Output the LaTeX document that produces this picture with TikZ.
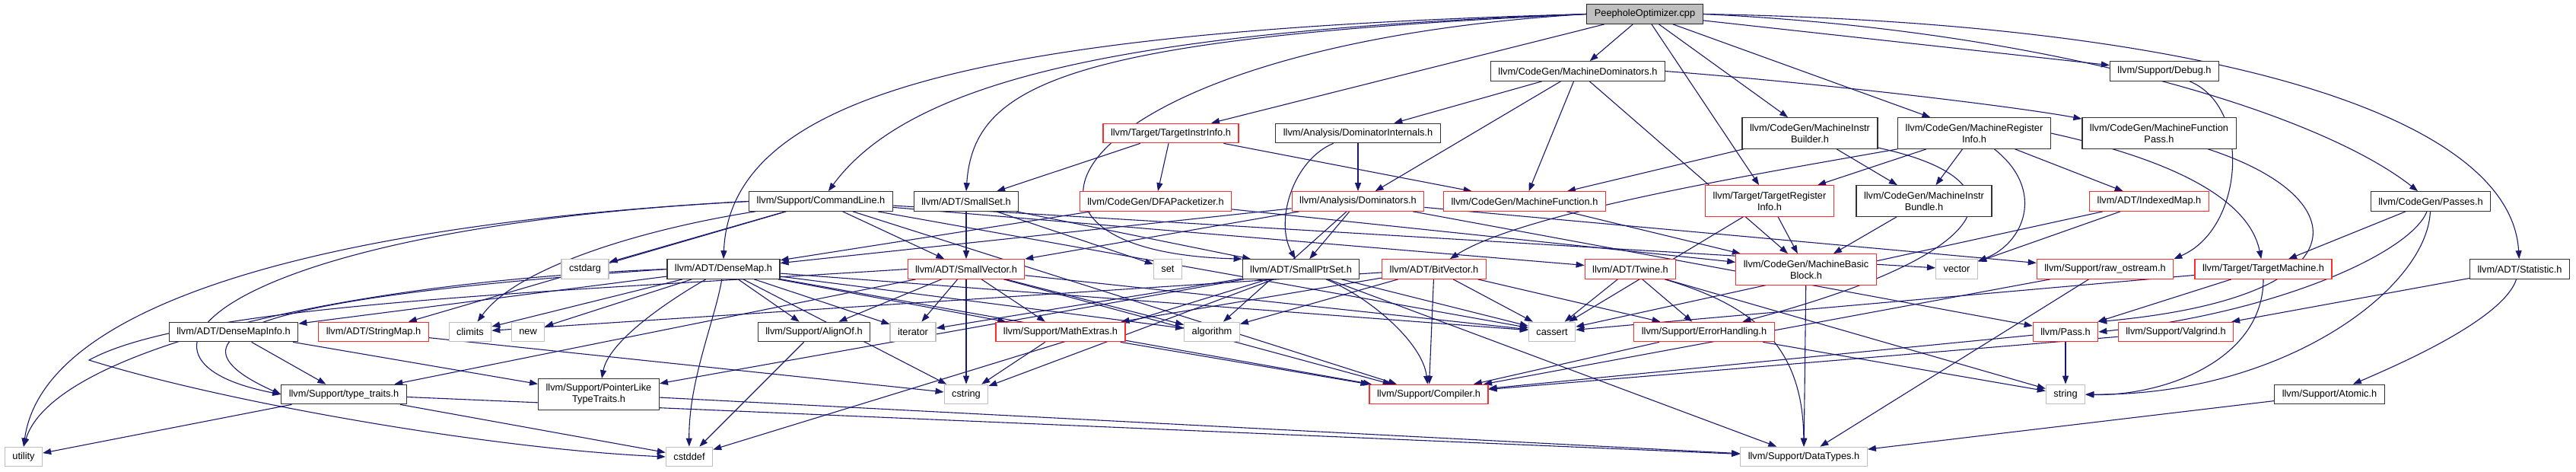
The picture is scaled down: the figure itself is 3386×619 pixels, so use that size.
\documentclass[tikz,border=0pt]{standalone}
\usepackage{fontspec}
\setmainfont{Liberation Sans}
\usetikzlibrary{arrows.meta}
\definecolor{edgeblue}{HTML}{191970}
\definecolor{truncred}{HTML}{FF2A2A}
\definecolor{sysgray}{HTML}{BFBFBF}
\pgfdeclarelayer{bg}
\pgfsetlayers{bg,main}

\begin{document}
\begin{tikzpicture}[
  x=1pt, y=-1pt,
  font=\fontsize{12.8}{15}\selectfont,
  hdr/.style={draw=black!80, fill=white, line width=1.2pt, align=center, inner xsep=10pt, inner ysep=3pt, minimum height=25.5pt},
  two/.style={minimum height=40.5pt},
  trunc/.style={hdr, draw=truncred},
  sys/.style={hdr, draw=sysgray},
  root/.style={hdr, fill=sysgray, draw=black!85},
  arr/.style={-{Triangle[length=11pt,width=8pt]}, draw=edgeblue, line width=1.1pt}
]
\useasboundingbox (0,0) rectangle (3386,619);

\node[root] (peep) at (2162,18.5) {PeepholeOptimizer.cpp};
\node[hdr] (md) at (2074,93.5) {llvm/CodeGen/MachineDominators.h};
\node[hdr] (debug) at (2845,93.5) {llvm/Support/Debug.h};
\node[trunc] (tii) at (1539,175) {llvm/Target/TargetInstrInfo.h};
\node[hdr] (domint) at (1785,175) {llvm/Analysis/DominatorInternals.h};
\node[hdr, two] (mib) at (2379,175) {llvm/CodeGen/MachineInstr\\Builder.h};
\node[hdr, two] (mri) at (2595,175) {llvm/CodeGen/MachineRegister\\Info.h};
\node[hdr, two] (mfpass) at (2838,175) {llvm/CodeGen/MachineFunction\\Pass.h};
\node[hdr] (cmdline) at (1079,264.5) {llvm/Support/CommandLine.h};
\node[hdr] (smallset) at (1270,264.5) {llvm/ADT/SmallSet.h};
\node[trunc] (dfa) at (1519,264.5) {llvm/CodeGen/DFAPacketizer.h};
\node[trunc] (dominators) at (1785,264.5) {llvm/Analysis/Dominators.h};
\node[trunc] (mfunc) at (2004,264.5) {llvm/CodeGen/MachineFunction.h};
\node[trunc, two] (tri) at (2326,264) {llvm/Target/TargetRegister\\Info.h};
\node[hdr, two] (mibundle) at (2529,264) {llvm/CodeGen/MachineInstr\\Bundle.h};
\node[trunc] (indexedmap) at (2825,264.5) {llvm/ADT/IndexedMap.h};
\node[hdr] (passes) at (3195,264.5) {llvm/CodeGen/Passes.h};
\node[sys] (cstdarg) at (769,353.5) {cstdarg};
\node[hdr] (densemap) at (951,353.5) {llvm/ADT/DenseMap.h};
\node[trunc] (smallvector) at (1270,353.5) {llvm/ADT/SmallVector.h};
\node[sys] (set) at (1535,353.5) {set};
\node[hdr] (smallptrset) at (1710,353.5) {llvm/ADT/SmallPtrSet.h};
\node[trunc] (bitvector) at (1885,353.5) {llvm/ADT/BitVector.h};
\node[trunc] (twine) at (2143,353.5) {llvm/ADT/Twine.h};
\node[trunc, two] (mbb) at (2374,354) {llvm/CodeGen/MachineBasic\\Block.h};
\node[sys] (vector) at (2572,353.5) {vector};
\node[trunc] (rawostream) at (2767,353.5) {llvm/Support/raw\_ostream.h};
\node[trunc] (targetmachine) at (2975,353.5) {llvm/Target/TargetMachine.h};
\node[hdr] (statistic) at (3312,353.5) {llvm/ADT/Statistic.h};
\node[hdr] (densemapinfo) at (307,436) {llvm/ADT/DenseMapInfo.h};
\node[trunc] (stringmap) at (491,436) {llvm/ADT/StringMap.h};
\node[sys] (climits) at (618,436) {climits};
\node[sys] (new) at (694,436) {new};
\node[hdr] (alignof) at (1070,436) {llvm/Support/AlignOf.h};
\node[sys] (iterator) at (1200,436) {iterator};
\node[trunc] (mathextras) at (1394,436) {llvm/Support/MathExtras.h};
\node[sys] (algorithm) at (1593,436) {algorithm};
\node[sys] (cassert) at (2040,436) {cassert};
\node[trunc] (errhandling) at (2240,436) {llvm/Support/ErrorHandling.h};
\node[trunc] (pass) at (2715,436) {llvm/Pass.h};
\node[trunc] (valgrind) at (2860,436) {llvm/Support/Valgrind.h};
\node[hdr] (typetraits) at (452,518) {llvm/Support/type\_traits.h};
\node[hdr, two] (pointerlike) at (787,518) {llvm/Support/PointerLike\\TypeTraits.h};
\node[sys] (cstring) at (1270,518) {cstring};
\node[trunc] (compiler) at (1878,518) {llvm/Support/Compiler.h};
\node[sys] (string) at (2715,518) {string};
\node[hdr] (atomic) at (3062,518) {llvm/Support/Atomic.h};
\node[sys] (utility) at (31,600) {utility};
\node[sys] (cstddef) at (906,600) {cstddef};
\node[sys] (datatypes) at (2371,600) {llvm/Support/DataTypes.h};
\coordinate (kink) at (117,473);

\begin{pgfonlayer}{bg}
\draw[arr] (peep) -- (md);
\draw[arr] (peep) -- (mib);
\draw[arr] (peep) -- (mri);
\draw[arr] (peep) -- (tri);
\draw[arr] (peep) -- (debug);
\draw[arr] (peep) -- (tii);
\draw[arr] (peep.east) .. controls (2700,40) and (3050,150) .. (passes);
\draw[arr] (peep.east) .. controls (2900,30) and (3300,150) .. (statistic);
\draw[arr] (peep.west) .. controls (1500,40) and (1200,100) .. (cmdline);
\draw[arr] (peep.west) .. controls (1300,40) and (960,120) .. (densemap.north);
\draw[arr] (peep.west) .. controls (1400,50) and (1280,110) .. (smallset.north);
\draw[arr] (peep.west) .. controls (1400,60) and (1250,330) .. (smallptrset.north west);
\draw[arr] (md) -- (domint);
\draw[arr] (md) -- (dominators);
\draw[arr] (md) -- (mfunc);
\draw[arr] (md) -- (mbb);
\draw[arr] (md.east) .. controls (2400,110) and (2650,140) .. (mfpass);
\draw[arr] (domint) -- (dominators);
\draw[arr] (domint) .. controls (1700,210) and (1675,290) .. (smallptrset);
\draw[arr] (tii) -- (smallset);
\draw[arr] (tii) -- (dfa);
\draw[arr] (tii) -- (mfunc);
\draw[arr] (mib) -- (mfunc);
\draw[arr] (mib) -- (mibundle);
\draw[arr] (mib) .. controls (2660,235) and (2640,330) .. (errhandling);
\draw[arr] (mri) -- (tri);
\draw[arr] (mri) -- (mibundle);
\draw[arr] (mri) -- (indexedmap);
\draw[arr] (mri.south west) .. controls (2300,230) and (2000,280) .. (bitvector);
\draw[arr] (mri) .. controls (2690,250) and (2660,320) .. (vector);
\draw[arr] (mri.east) .. controls (2900,220) and (2960,280) .. (targetmachine);
\draw[arr] (mfpass) .. controls (3100,260) and (3110,390) .. (pass.north east);
\draw[arr] (debug) .. controls (2960,140) and (2950,300) .. (rawostream.north east);
\draw[arr] (passes) -- (targetmachine);
\draw[arr] (passes) .. controls (3170,330) and (3000,410) .. (pass.east);
\draw[arr] (passes) .. controls (3190,380) and (3000,520) .. (string.east);
\draw[arr] (statistic) .. controls (3290,420) and (3150,480) .. (atomic);
\draw[arr] (statistic) -- (valgrind);
\draw[arr] (cmdline) -- (stringmap);
\draw[arr] (cmdline) -- (smallvector);
\draw[arr] (cmdline) -- (twine);
\draw[arr] (cmdline) -- (compiler);
\draw[arr] (cmdline) -- (cassert);
\draw[arr] (cmdline) -- (vector);
\draw[arr] (cmdline) -- (cstdarg);
\draw[arr] (cmdline) .. controls (850,300) and (680,350) .. (climits);
\draw[arr] (cmdline.west) .. controls (500,290) and (60,380) .. (utility.north);
\draw[arr] (cmdline.west) .. controls (300,300) and (120,470) .. (typetraits.west);
\draw[arr] (smallset) -- (smallptrset);
\draw[arr] (smallset) -- (smallvector);
\draw[arr] (smallset) -- (set);
\draw[arr] (dfa) -- (densemap);
\draw[arr] (dfa) -- (mbb);
\draw[arr] (dominators) -- (densemap);
\draw[arr] (dominators) -- (smallvector);
\draw[arr] (dominators) -- (smallptrset);
\draw[arr] (dominators) -- (pass);
\draw[arr] (dominators) -- (rawostream);
\draw[arr] (dominators) -- (algorithm);
\draw[arr] (mfunc) -- (mbb);
\draw[arr] (tri) -- (mbb);
\draw[arr] (tri) -- (cassert);
\draw[arr] (mibundle) -- (mbb);
\draw[arr] (indexedmap) -- (vector);
\draw[arr] (indexedmap) -- (cassert);
\draw[arr] (densemap) -- (densemapinfo);
\draw[arr] (densemap) -- (alignof);
\draw[arr] (densemap) -- (mathextras);
\draw[arr] (densemap) -- (algorithm);
\draw[arr] (densemap) -- (cassert);
\draw[arr] (densemap) -- (climits);
\draw[arr] (densemap) -- (cstring);
\draw[arr] (densemap) -- (iterator);
\draw[arr] (densemap) -- (new);
\draw[arr] (densemap) -- (compiler);
\draw[arr] (densemap) .. controls (870,400) and (800,450) .. (pointerlike);
\draw[arr] (densemap) .. controls (940,420) and (905,500) .. (cstddef);
\draw[arr] (densemap.west) .. controls (450,370) and (70,460) .. (utility.north);
\draw[arr] (densemap.west) .. controls (500,380) and (150,420) .. (typetraits.west);
\draw[arr] (smallvector) -- (alignof);
\draw[arr] (smallvector) -- (compiler);
\draw[arr] (smallvector) -- (typetraits);
\draw[arr] (smallvector) -- (algorithm);
\draw[arr] (smallvector) -- (cassert);
\draw[arr] (smallvector) -- (cstring);
\draw[arr] (smallvector) -- (iterator);
\draw[arr] (smallvector) -- (mathextras);
\draw[arr] (smallvector.west) .. controls (700,385) and (250,400) .. (kink) .. controls (300,530) and (650,590) .. (cstddef.west);
\draw[arr] (smallptrset) .. controls (1800,390) and (1870,450) .. (compiler);
\draw[arr] (smallptrset) -- (datatypes);
\draw[arr] (smallptrset) -- (pointerlike);
\draw[arr] (smallptrset) -- (cassert);
\draw[arr] (smallptrset) -- (cstddef);
\draw[arr] (smallptrset) -- (cstring);
\draw[arr] (smallptrset) -- (iterator);
\draw[arr] (bitvector) -- (compiler);
\draw[arr] (bitvector) -- (errhandling);
\draw[arr] (bitvector) -- (mathextras);
\draw[arr] (bitvector) -- (algorithm);
\draw[arr] (bitvector) -- (cassert);
\draw[arr] (bitvector) -- (climits);
\draw[arr] (twine) -- (cassert);
\draw[arr] (twine) -- (errhandling);
\draw[arr] (twine) -- (string);
\draw[arr] (twine) .. controls (2300,400) and (2370,450) .. (datatypes);
\draw[arr] (mbb) -- (datatypes);
\draw[arr] (rawostream) -- (compiler);
\draw[arr] (rawostream) -- (datatypes);
\draw[arr] (targetmachine) -- (cassert);
\draw[arr] (targetmachine) -- (pass);
\draw[arr] (targetmachine) .. controls (2975,470) and (2850,520) .. (string);
\draw[arr] (stringmap) -- (cstring);
\draw[arr] (densemapinfo) -- (pointerlike);
\draw[arr] (densemapinfo) -- (typetraits);
\draw[arr] (alignof) -- (cstddef);
\draw[arr] (mathextras) -- (compiler);
\draw[arr] (mathextras) -- (cstring);
\draw[arr] (errhandling) -- (compiler);
\draw[arr] (errhandling) -- (string);
\draw[arr] (pass) -- (string);
\draw[arr] (pass) -- (compiler);
\draw[arr] (valgrind) -- (compiler);
\draw[arr] (typetraits) -- (datatypes);
\draw[arr] (typetraits) -- (cstddef);
\draw[arr] (typetraits) -- (utility);
\draw[arr] (pointerlike) -- (datatypes);
\draw[arr] (atomic) -- (datatypes);
\end{pgfonlayer}
\end{tikzpicture}
\end{document}
